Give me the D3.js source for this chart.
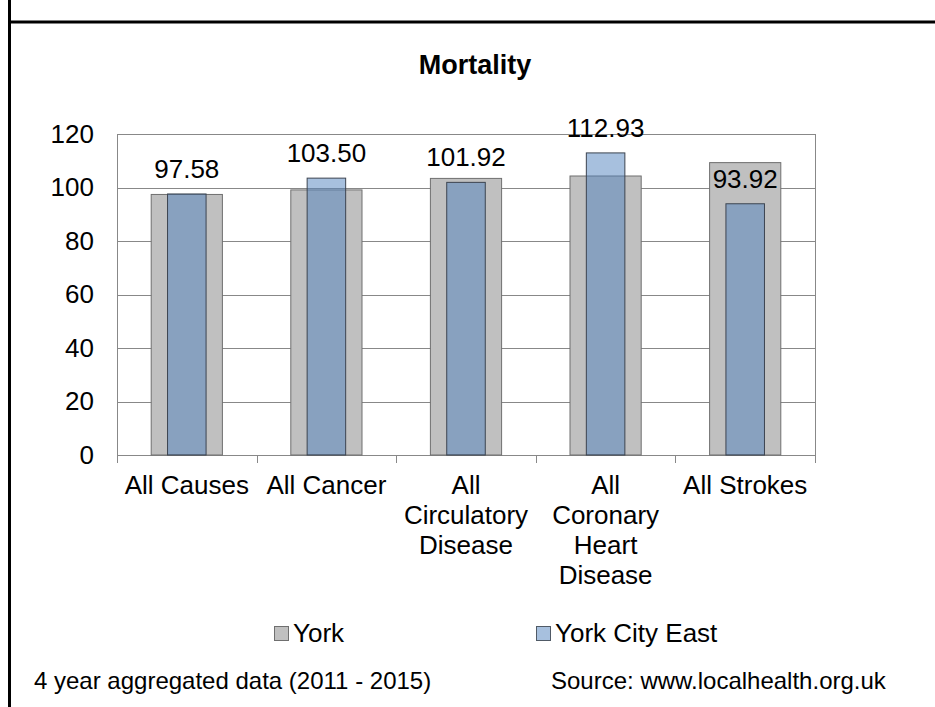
<!DOCTYPE html>
<html>
<head>
<meta charset="utf-8">
<script src="https://cdn.jsdelivr.net/npm/d3@7"></script>
<style>
  html, body { margin: 0; background: #fff; overflow: hidden; }
  svg { display: block; }
  text { font-family: "Liberation Sans", Arial, sans-serif; fill: #000; }
</style>
</head>
<body>
<div class="vizcontainer"></div>
<script>
// chart data
const categories = ["All Causes", "All Cancer", "All Circulatory Disease", "All Coronary Heart Disease", "All Strokes"];
const categoryLines = [["All Causes"], ["All Cancer"], ["All", "Circulatory", "Disease"], ["All", "Coronary", "Heart", "Disease"], ["All Strokes"]];
const yorkValues = [97.4, 99.1, 103.4, 104.3, 109.3];
const eastValues = [97.58, 103.50, 101.92, 112.93, 93.92];
const yTicks = [0, 20, 40, 60, 80, 100, 120];
const seriesNames = ["York", "York City East"];

const plot = ({
  left: 117,
  right: 815,
  top: 134,
  bottom: 455
});

var svgCanvas = d3.select(".vizcontainer")
.append("svg")
.attr("width", 935)
.attr("height", 707);

// frame lines
svgCanvas.append("line")
.attr("x1", 9.5).attr("x2", 9.5).attr("y1", 0).attr("y2", 707)
.attr("stroke", "#000").attr("stroke-width", 3);
svgCanvas.append("line")
.attr("x1", 8).attr("x2", 935).attr("y1", 22).attr("y2", 22)
.attr("stroke", "#000").attr("stroke-width", 3);

// title
svgCanvas.append("text")
.attr("x", 475)
.attr("y", 74)
.attr("text-anchor", "middle")
.style("font-size", "27px")
.style("font-weight", "bold")
.text("Mortality");

var xscale = d3.scaleBand()
.domain(categories)
.range([plot.left, plot.right])
.padding(0);

var yscale = d3.scaleLinear()
.domain([0, 120])
.range([plot.bottom, plot.top]);

// gridlines + y tick labels
var yAxis = d3.axisLeft(yscale)
.tickValues(yTicks)
.tickSize(-(plot.right - plot.left))
.tickPadding(23);

var yg = svgCanvas.append("g")
.attr("transform", "translate(" + plot.left + ",0)")
.call(yAxis);
yg.select(".domain").remove();
yg.selectAll("line").attr("stroke", "#888").attr("shape-rendering", "crispEdges");
yg.selectAll("text")
.attr("font-family", null)
.style("font-size", "26px")
.attr("fill", "#000");

// plot border
svgCanvas.append("rect")
.attr("x", plot.left)
.attr("y", plot.top)
.attr("width", plot.right - plot.left)
.attr("height", plot.bottom - plot.top)
.attr("fill", "none")
.attr("stroke", "#888")
.attr("shape-rendering", "crispEdges");

// category boundary ticks
var edgeScale = d3.scaleLinear().domain([0, categories.length]).range([plot.left, plot.right]);
var xg = svgCanvas.append("g")
.attr("transform", "translate(0," + plot.bottom + ")")
.call(d3.axisBottom(edgeScale).tickValues(d3.range(categories.length + 1)).tickFormat("").tickSize(8));
xg.selectAll("line, path").attr("stroke", "#888").attr("shape-rendering", "crispEdges");

var bw = xscale.bandwidth();

// York bars
svgCanvas.selectAll(".york")
.data(yorkValues)
.enter()
.append("rect")
.attr("class", "york")
.attr("x", (d, i) => xscale(categories[i]) + bw * 0.245)
.attr("width", bw * 0.51)
.attr("y", d => yscale(d))
.attr("height", d => yscale(0) - yscale(d))
.attr("fill", "#c0c0c0")
.attr("stroke", "#6f6f6f")
.attr("stroke-width", 1);

// York City East bars (semi transparent)
svgCanvas.selectAll(".east")
.data(eastValues)
.enter()
.append("rect")
.attr("class", "east")
.attr("x", (d, i) => xscale(categories[i]) + bw * 0.362)
.attr("width", bw * 0.276)
.attr("y", d => yscale(d))
.attr("height", d => yscale(0) - yscale(d))
.attr("fill", "#4f81bd")
.attr("fill-opacity", 0.5)
.attr("stroke", "#3c4450")
.attr("stroke-width", 1);

// data labels
svgCanvas.selectAll(".dlabel")
.data(eastValues)
.enter()
.append("text")
.attr("class", "dlabel")
.attr("x", (d, i) => xscale(categories[i]) + bw / 2)
.attr("y", d => yscale(d) - 16)
.attr("text-anchor", "middle")
.style("font-size", "26px")
.text(d => d.toFixed(2));

// category labels
var catText = svgCanvas.selectAll(".cat")
.data(categoryLines)
.enter()
.append("text")
.attr("class", "cat")
.attr("text-anchor", "middle")
.style("font-size", "26px");
catText.selectAll("tspan")
.data(d => d)
.enter()
.append("tspan")
.attr("x", function () {
  var i = categoryLines.indexOf(d3.select(this.parentNode).datum());
  return xscale(categories[i]) + bw / 2;
})
.attr("y", (d, j) => 494 + j * 30)
.text(d => d);

// legend
var legendX = [274, 536];
var legendFill = ["#c0c0c0", "#a7c0de"];
var legendStroke = ["#6f6f6f", "#505a66"];
var legend = svgCanvas.append("g").attr("id", "legend");
legend.selectAll("rect")
.data(seriesNames)
.enter()
.append("rect")
.attr("x", (d, i) => legendX[i] + 0.5)
.attr("y", 626.5)
.attr("width", 14)
.attr("height", 14)
.attr("fill", (d, i) => legendFill[i])
.attr("stroke", (d, i) => legendStroke[i]);
legend.selectAll("text")
.data(seriesNames)
.enter()
.append("text")
.attr("x", (d, i) => legendX[i] + 19)
.attr("y", 642)
.style("font-size", "26px")
.text(d => d);

// footnotes
svgCanvas.append("text")
.attr("x", 34)
.attr("y", 689)
.style("font-size", "24px")
.text("4 year aggregated data (2011 - 2015)");
svgCanvas.append("text")
.attr("x", 551)
.attr("y", 689)
.style("font-size", "24px")
.text("Source: www.localhealth.org.uk");
</script>
</body>
</html>
